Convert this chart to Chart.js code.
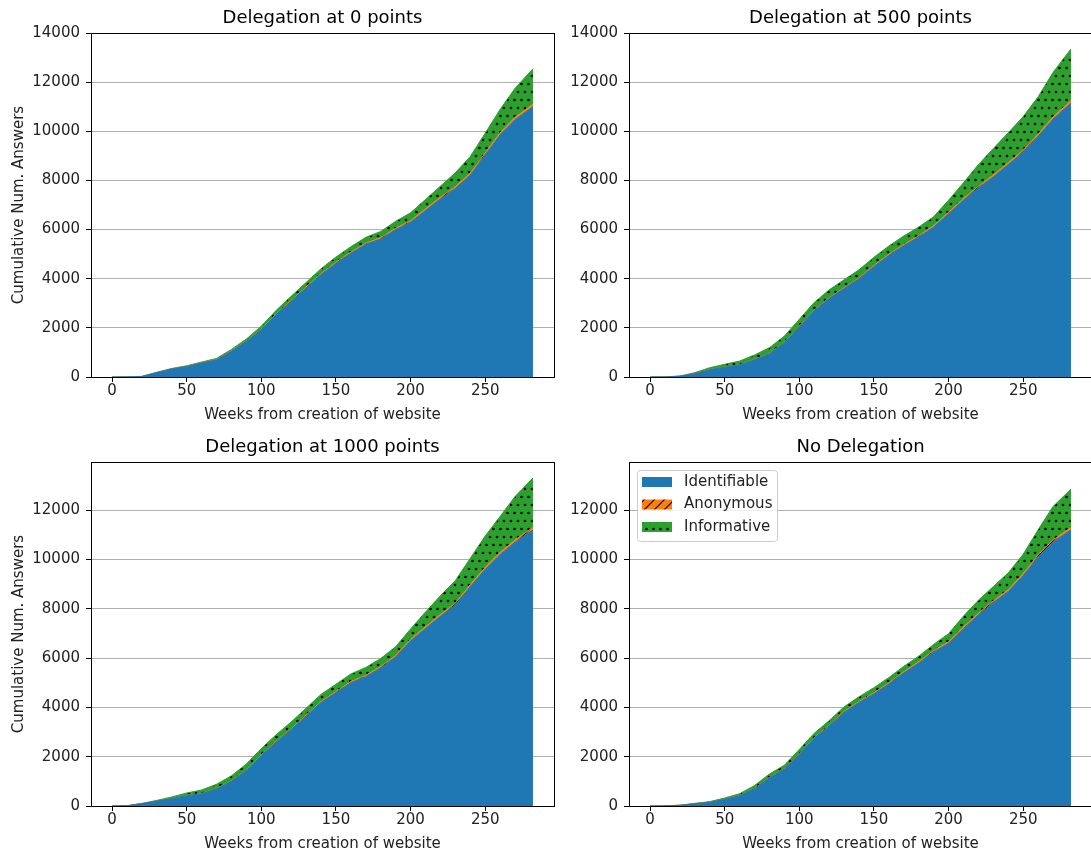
<!DOCTYPE html>
<html>
<head>
<meta charset="utf-8">
<script src="https://cdn.jsdelivr.net/npm/chart.js@4.4.0/dist/chart.umd.min.js"></script>
<style>
  html, body { margin: 0; padding: 0; background: #fff; overflow: hidden; width: 1091px; height: 856px; }
  canvas { position: absolute; }
</style>
</head>
<body>
<canvas id="c0" width="560" height="430" style="left:0;top:0"></canvas>
<canvas id="c1" width="560" height="430" style="left:545px;top:0"></canvas>
<canvas id="c2" width="560" height="430" style="left:0;top:429px"></canvas>
<canvas id="c3" width="560" height="430" style="left:545px;top:429px"></canvas>
<script>
// weeks
const weeks = [0, 10, 20, 30, 40, 50, 60, 70, 80, 90, 100, 110, 120, 130, 140, 150, 160, 170, 180, 190, 200, 210, 220, 230, 240, 250, 260, 270, 282];
const xTicks = [0, 50, 100, 150, 200, 250];
const yTicksTop = [0, 2000, 4000, 6000, 8000, 10000, 12000, 14000];
const yTicksBottom = [0, 2000, 4000, 6000, 8000, 10000, 12000];
const seriesNames = ['Identifiable', 'Anonymous', 'Informative'];
const titles = ['Delegation at 0 points', 'Delegation at 500 points', 'Delegation at 1000 points', 'No Delegation'];

// Delegation at 0 points
const ident0 = [0, 5, 20, 180, 330, 430, 570, 700, 1050, 1450, 1930, 2540, 3090, 3630, 4170, 4630, 5040, 5400, 5620, 6000, 6300, 6780, 7250, 7680, 8220, 9040, 9860, 10480, 11000];
const anon0  = [0, 0, 1, 3, 5, 7, 9, 11, 14, 17, 20, 24, 28, 32, 36, 40, 44, 48, 52, 56, 60, 64, 68, 72, 76, 80, 84, 88, 95];
const info0  = [0, 0, 5, 8, 12, 20, 30, 45, 60, 80, 120, 150, 170, 185, 200, 210, 220, 235, 250, 280, 320, 380, 450, 560, 680, 800, 950, 1180, 1450];

// Delegation at 500 points
const ident1 = [0, 5, 30, 130, 300, 400, 500, 700, 950, 1400, 2050, 2700, 3200, 3600, 4000, 4500, 4950, 5350, 5700, 6100, 6650, 7200, 7700, 8150, 8650, 9150, 9800, 10500, 11150];
const anon1  = [0, 0, 1, 2, 4, 6, 8, 10, 12, 15, 18, 22, 26, 30, 34, 38, 42, 46, 50, 54, 58, 62, 66, 70, 74, 78, 82, 86, 92];
const info1  = [0, 0, 9, 45, 75, 110, 140, 185, 230, 250, 280, 310, 320, 325, 330, 335, 340, 345, 350, 370, 490, 640, 880, 1080, 1220, 1370, 1520, 1810, 2110];

// Delegation at 1000 points
const ident2 = [0, 10, 100, 200, 300, 420, 500, 700, 1000, 1450, 2050, 2600, 3100, 3650, 4200, 4600, 5000, 5250, 5600, 6050, 6700, 7200, 7700, 8150, 8900, 9600, 10200, 10700, 11200];
const anon2  = [0, 0, 1, 3, 5, 7, 9, 11, 14, 17, 20, 24, 28, 32, 36, 40, 44, 48, 52, 56, 60, 64, 68, 72, 76, 80, 84, 90, 100];
const info2  = [0, 0, 0, 25, 60, 100, 140, 170, 210, 240, 260, 270, 280, 285, 290, 300, 310, 320, 330, 350, 420, 600, 760, 920, 1070, 1270, 1460, 1760, 2000];

// No Delegation
const ident3 = [0, 5, 30, 90, 150, 270, 420, 700, 1150, 1500, 2100, 2750, 3250, 3800, 4200, 4550, 4950, 5400, 5800, 6250, 6600, 7200, 7750, 8250, 8700, 9350, 10100, 10700, 11200];
const anon3  = [0, 0, 1, 2, 3, 5, 7, 9, 12, 15, 18, 22, 26, 30, 34, 38, 42, 46, 50, 54, 58, 62, 66, 70, 74, 78, 82, 86, 92];
const info3  = [0, 0, 0, 15, 25, 50, 70, 120, 135, 140, 175, 180, 185, 190, 195, 210, 215, 220, 225, 250, 330, 440, 530, 580, 680, 780, 1020, 1360, 1560];

const FONT = 'DejaVu Sans';
const BLUE = '#1f77b4', ORANGE = '#ff7f0e', GREEN = '#2ca02c';

function hatchPattern() {
  const c = document.createElement('canvas');
  c.width = 10; c.height = 10;
  const g = c.getContext('2d');
  g.fillStyle = ORANGE; g.fillRect(0, 0, 10, 10);
  g.strokeStyle = '#000'; g.lineWidth = 1.2;
  g.beginPath();
  g.moveTo(0, 10); g.lineTo(10, 0);
  g.moveTo(-5, 5); g.lineTo(5, -5);
  g.moveTo(5, 15); g.lineTo(15, 5);
  g.stroke();
  return g.createPattern(c, 'repeat');
}

function dotPattern() {
  const c = document.createElement('canvas');
  c.width = 14; c.height = 16;
  const g = c.getContext('2d');
  g.fillStyle = GREEN; g.fillRect(0, 0, 14, 16);
  g.fillStyle = '#000';
  [[3.5, 4], [10.5, 4], [0, 12], [7, 12], [14, 12]].forEach(([x, y]) => {
    g.beginPath(); g.arc(x, y, 1.3, 0, Math.PI * 2); g.fill();
  });
  return g.createPattern(c, 'repeat');
}

const hatch = hatchPattern();
const dots = dotPattern();

// box round the axes, like matplotlib spines
const frame = {
  id: 'frame',
  afterDraw(chart) {
    const { ctx, chartArea: a } = chart;
    ctx.save();
    ctx.strokeStyle = '#000';
    ctx.lineWidth = 1;
    ctx.strokeRect(Math.round(a.left) + 0.5, Math.round(a.top) + 0.5, Math.round(a.right - a.left), Math.round(a.bottom - a.top));
    ctx.restore();
  }
};

// legend box in the upper left of the axes
const boxLegend = {
  id: 'boxLegend',
  afterDraw(chart, args, opts) {
    if (!opts.show) return;
    const ctx = chart.ctx;
    const a = chart.chartArea;
    const x = a.left + 8, y = a.top + 8, w = 140, h = 71;
    ctx.save();
    ctx.fillStyle = 'rgba(255,255,255,0.8)';
    ctx.strokeStyle = '#cccccc';
    ctx.lineWidth = 1;
    ctx.beginPath();
    ctx.roundRect(x + 0.5, y + 0.5, w, h, 3);
    ctx.fill(); ctx.stroke();
    const fills = [BLUE, hatch, dots];
    ctx.font = `15px "${FONT}"`;
    ctx.textBaseline = 'middle';
    seriesNames.forEach((name, i) => {
      const rowY = y + 12 + i * 22.5;
      ctx.fillStyle = fills[i];
      ctx.fillRect(x + 5, rowY - 5, 30, 10);
      ctx.fillStyle = '#222';
      ctx.fillText(name, x + 47, rowY);
    });
    ctx.restore();
  }
};

function makeChart(id, title, ident, anon, info, o) {
  const pts = arr => arr.map((v, i) => ({ x: weeks[i], y: v }));
  return new Chart(document.getElementById(id), {
    type: 'line',
    data: {
      datasets: [
        { label: seriesNames[0], data: pts(ident), backgroundColor: BLUE, borderColor: BLUE, borderWidth: 1, fill: 'origin', pointRadius: 0 },
        { label: seriesNames[1], data: pts(anon), backgroundColor: hatch, borderColor: ORANGE, borderWidth: 1, fill: '-1', pointRadius: 0 },
        { label: seriesNames[2], data: pts(info), backgroundColor: dots, borderColor: GREEN, borderWidth: 1, fill: '-1', pointRadius: 0 },
      ],
    },
    options: {
      responsive: false,
      animation: false,
      layout: { padding: { left: 0, right: o.padRight, top: 0, bottom: 0 } },
      plugins: {
        legend: { display: false },
        tooltip: { enabled: false },
        title: {
          display: true, text: title, fullSize: false, color: '#000',
          font: { family: FONT, size: 18, weight: 'normal', lineHeight: 1.2 },
          padding: { top: 8, bottom: 3.4 },
        },
        boxLegend: { show: !!o.legend },
      },
      scales: {
        x: {
          type: 'linear', min: -14.1, max: 296.1,
          afterBuildTicks: s => { s.ticks = xTicks.map(v => ({ value: v })); },
          afterFit: s => { s.height = 53; },
          grid: { drawOnChartArea: false, drawTicks: true, tickLength: 5, tickColor: '#000' },
          border: { display: false },
          ticks: { color: '#222', padding: 0, maxRotation: 0, font: { family: FONT, size: 15 }, callback: v => String(v) },
          title: { display: true, text: 'Weeks from creation of website', color: '#222', padding: { bottom: 6 }, font: { family: FONT, size: 15 } },
        },
        y: {
          stacked: true, min: 0, max: o.yMax,
          afterBuildTicks: s => { s.ticks = o.yTicks.map(v => ({ value: v })); },
          afterFit: s => { s.width = o.axisWidth; },
          grid: { color: '#b0b0b0', tickColor: '#000', tickLength: 5, lineWidth: 1 },
          border: { display: false },
          ticks: { color: '#222', padding: 6, font: { family: FONT, size: 15 }, callback: v => String(v) },
          title: { display: o.yTitle, text: 'Cumulative Num. Answers', color: '#222', padding: { top: 10 }, font: { family: FONT, size: 15 } },
        },
      },
    },
    plugins: [frame, boxLegend],
  });
}

makeChart('c0', titles[0], ident0, anon0, info0, { yMax: 14000, yTicks: yTicksTop, axisWidth: 91, padRight: 6, yTitle: true });
makeChart('c1', titles[1], ident1, anon1, info1, { yMax: 14000, yTicks: yTicksTop, axisWidth: 84, padRight: 13, yTitle: false });
makeChart('c2', titles[2], ident2, anon2, info2, { yMax: 13950, yTicks: yTicksBottom, axisWidth: 91, padRight: 6, yTitle: true });
makeChart('c3', titles[3], ident3, anon3, info3, { yMax: 13950, yTicks: yTicksBottom, axisWidth: 84, padRight: 13, yTitle: false, legend: true });
</script>
</body>
</html>
